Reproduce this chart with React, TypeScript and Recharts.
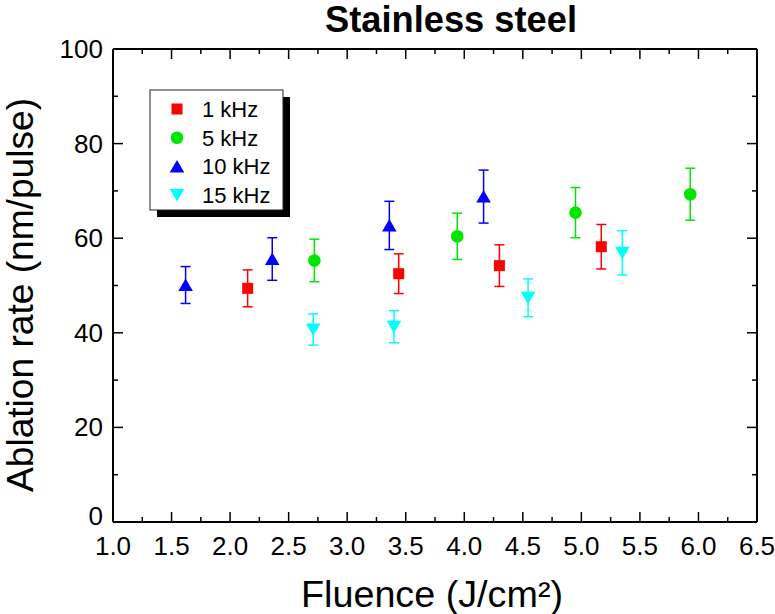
import React from "react";
import { ScatterChart, Scatter, XAxis, YAxis, ErrorBar } from "recharts";

// 1 kHz
const x1k = [2.15, 3.44, 4.3, 5.17];
const y1k = [49.4, 52.5, 54.2, 58.2];
const e1k = [3.9, 4.2, 4.4, 4.7];
// 5 kHz
const x5k = [2.72, 3.94, 4.95, 5.93];
const y5k = [55.3, 60.4, 65.4, 69.3];
const e5k = [4.5, 4.9, 5.3, 5.5];
// 10 kHz
const x10k = [1.62, 2.36, 3.36, 4.165];
const y10k = [50.1, 55.6, 62.7, 68.8];
const e10k = [3.9, 4.5, 5.1, 5.6];
// 15 kHz
const x15k = [2.71, 3.4, 4.545, 5.35];
const y15k = [40.7, 41.3, 47.4, 56.9];
const e15k = [3.3, 3.4, 4.0, 4.7];

const xTicks = [1, 1.25, 1.5, 1.75, 2, 2.25, 2.5, 2.75, 3, 3.25, 3.5, 3.75, 4, 4.25, 4.5, 4.75, 5, 5.25, 5.5, 5.75, 6, 6.25, 6.5];
const yTicks = [0, 10, 20, 30, 40, 50, 60, 70, 80, 90, 100];

const toRows = (xs: number[], ys: number[], es: number[]) =>
  xs.map((x, i) => ({ x, y: ys[i], e: es[i] }));

const series = [
  { name: "1 kHz", kind: "square", color: "#ff0000", data: toRows(x1k, y1k, e1k) },
  { name: "5 kHz", kind: "circle", color: "#00e600", data: toRows(x5k, y5k, e5k) },
  { name: "10 kHz", kind: "up", color: "#0000ff", data: toRows(x10k, y10k, e10k) },
  { name: "15 kHz", kind: "down", color: "#00ffff", data: toRows(x15k, y15k, e15k) },
];

function Marker({ kind, cx, cy, fill }: any) {
  if (cx == null || cy == null) return null;
  if (kind === "square") return <rect x={cx - 5.5} y={cy - 5.5} width={11} height={11} fill={fill} />;
  if (kind === "circle") return <circle cx={cx} cy={cy} r={6.3} fill={fill} />;
  if (kind === "up")
    return <path d={`M${cx},${cy - 6.5} L${cx + 7.3},${cy + 6} L${cx - 7.3},${cy + 6} Z`} fill={fill} />;
  return <path d={`M${cx - 7.3},${cy - 6} L${cx + 7.3},${cy - 6} L${cx},${cy + 6.5} Z`} fill={fill} />;
}

const isMajorX = (v: number) => Math.abs(v * 2 - Math.round(v * 2)) < 1e-6;
const isMajorY = (v: number) => v % 20 === 0;

// axes are 1px thick, so the tick anchor sits on the plot edge
const BottomTick = (p: any) => {
  const v = p.payload.value;
  const major = isMajorX(v);
  return (
    <g>
      <line x1={p.x} x2={p.x} y1={p.y} y2={p.y - (major ? 10 : 5)} stroke="#000" strokeWidth={1.5} />
      {major && (
        <text x={p.x} y={p.y + 33} textAnchor="middle" fontSize={26} fill="#000">
          {v.toFixed(1)}
        </text>
      )}
    </g>
  );
};

const TopTick = (p: any) => {
  const major = isMajorX(p.payload.value);
  return <line x1={p.x} x2={p.x} y1={p.y} y2={p.y + (major ? 10 : 5)} stroke="#000" strokeWidth={1.5} />;
};

const LeftTick = (p: any) => {
  const v = p.payload.value;
  const major = isMajorY(v);
  return (
    <g>
      <line x1={p.x} x2={p.x + (major ? 10 : 5)} y1={p.y} y2={p.y} stroke="#000" strokeWidth={1.5} />
      {major && (
        <text x={p.x - 10} y={p.y + (v === 0 ? 3 : 9)} textAnchor="end" fontSize={26} fill="#000">
          {v}
        </text>
      )}
    </g>
  );
};

const RightTick = (p: any) => {
  const major = isMajorY(p.payload.value);
  return <line x1={p.x} x2={p.x - (major ? 10 : 5)} y1={p.y} y2={p.y} stroke="#000" strokeWidth={1.5} />;
};

function LegendBox() {
  const left = 150;
  const top = 90;
  return (
    <g>
      <rect x={left + 7} y={top + 7} width={133} height={120} fill="#000" />
      <rect x={left} y={top} width={133} height={120} fill="#fff" stroke="#222" strokeWidth={1} />
      {series.map((s, i) => {
        const cy = top + 19 + i * 28.7;
        return (
          <g key={s.name}>
            <Marker kind={s.kind} cx={left + 27} cy={cy} fill={s.color} />
            <text x={left + 52} y={cy + 8} fontSize={22} fill="#000">
              {s.name}
            </text>
          </g>
        );
      })}
    </g>
  );
}

const axisLine = { stroke: "#000", strokeWidth: 2 };

export default function App() {
  return (
    <div style={{ position: "absolute", left: 0, top: 0, fontFamily: "'Liberation Sans', Arial, sans-serif" }}>
      <ScatterChart width={775} height={614} margin={{ top: 48, right: 17, bottom: 91, left: 112 }}>
        <XAxis
          xAxisId="b"
          dataKey="x"
          type="number"
          domain={[1, 6.5]}
          ticks={xTicks}
          interval={0}
          height={1}
          tickSize={0}
          tickMargin={0}
          tickLine={false}
          axisLine={axisLine}
          tick={BottomTick}
          allowDataOverflow
        />
        <XAxis
          xAxisId="t"
          orientation="top"
          dataKey="x"
          type="number"
          domain={[1, 6.5]}
          ticks={xTicks}
          interval={0}
          height={1}
          tickSize={0}
          tickMargin={0}
          tickLine={false}
          axisLine={axisLine}
          tick={TopTick}
          allowDataOverflow
        />
        <YAxis
          yAxisId="l"
          dataKey="y"
          type="number"
          domain={[0, 100]}
          ticks={yTicks}
          interval={0}
          width={1}
          tickSize={0}
          tickMargin={0}
          tickLine={false}
          axisLine={axisLine}
          tick={LeftTick}
          allowDataOverflow
        />
        <YAxis
          yAxisId="r"
          orientation="right"
          dataKey="y"
          type="number"
          domain={[0, 100]}
          ticks={yTicks}
          interval={0}
          width={1}
          tickSize={0}
          tickMargin={0}
          tickLine={false}
          axisLine={axisLine}
          tick={RightTick}
          allowDataOverflow
        />
        {series.map((s) => (
          <Scatter
            key={s.name}
            name={s.name}
            data={s.data}
            xAxisId="b"
            yAxisId="l"
            fill={s.color}
            isAnimationActive={false}
            shape={(p: any) => <Marker kind={s.kind} cx={p.cx} cy={p.cy} fill={s.color} />}
          >
            <ErrorBar dataKey="e" direction="y" width={5} stroke={s.color} strokeWidth={1.5} isAnimationActive={false} />
          </Scatter>
        ))}
        <text x={451} y={32} textAnchor="middle" fontSize={37} fontWeight="bold" textLength={252} lengthAdjust="spacingAndGlyphs" fill="#000">
          Stainless steel
        </text>
        <text x={432} y={607} textAnchor="middle" fontSize={36} textLength={262} lengthAdjust="spacingAndGlyphs" fill="#000">
          Fluence (J/cm²)
        </text>
        <text
          x={0}
          y={0}
          transform="translate(33,295) rotate(-90)"
          textAnchor="middle"
          fontSize={36}
          textLength={394}
          lengthAdjust="spacingAndGlyphs"
          fill="#000"
        >
          Ablation rate (nm/pulse)
        </text>
        <LegendBox />
      </ScatterChart>
    </div>
  );
}
